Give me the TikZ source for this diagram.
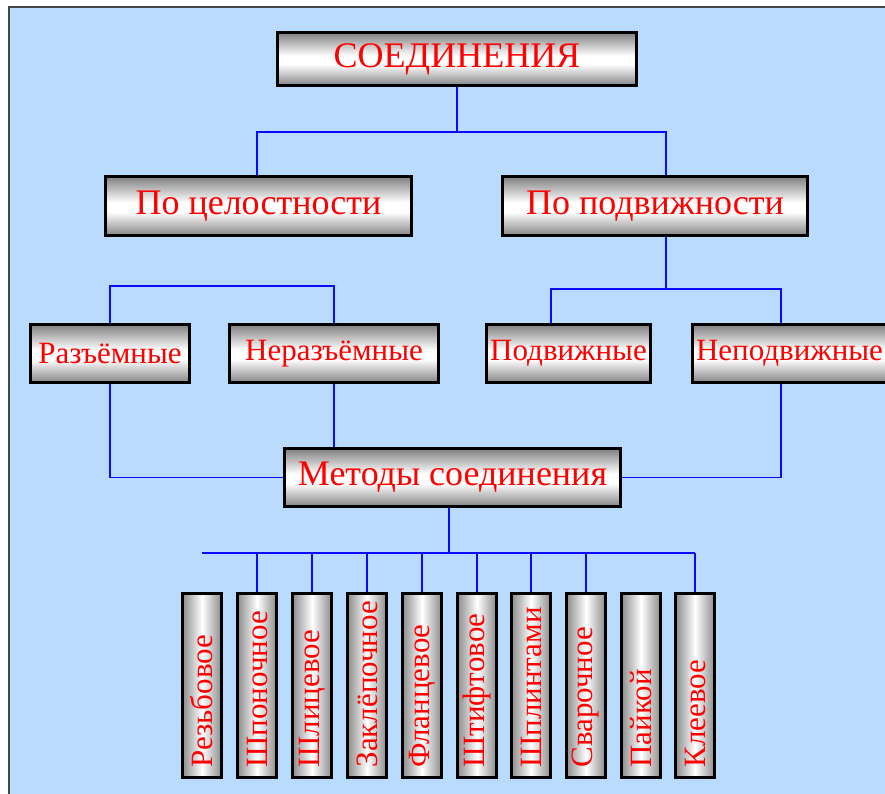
\documentclass[tikz,border=0pt]{standalone}
\usepackage{fontspec}
\setmainfont{Liberation Serif}
\usetikzlibrary{positioning,calc}
\definecolor{bgc}{RGB}{185,219,254}
\definecolor{frm}{RGB}{70,70,70}
\definecolor{lnk}{RGB}{10,10,255}
% metal look of the boxes: grey edges, white band a bit below the middle
\pgfdeclareverticalshading{metal}{100bp}{color(0bp)=(black!48); color(25bp)=(black!48);
  color(45bp)=(white); color(53bp)=(white); color(75bp)=(black!50); color(100bp)=(black!50)}
\newcommand{\upward}[1]{\rotatebox{90}{\makebox[164pt][l]{#1}}}
\tikzset{
  box/.style={rectangle,draw=black,line width=2.6pt,shading=metal,
    text=red,font=\fontsize{36}{42}\selectfont,inner sep=0pt},
  subbox/.style={box,minimum height=58pt,font=\fontsize{31}{36}\selectfont},
  % upright boxes for the ten methods, text runs upward
  vbox/.style={rectangle,draw=black,line width=2.6pt,
    left color=black!45,right color=black!45,middle color=white,
    text=red,font=\fontsize{31}{36}\selectfont,
    minimum width=39pt,minimum height=184pt,inner xsep=0pt,inner ysep=10pt},
  link/.style={draw=lnk,line width=1.9pt},
}

\begin{document}
\begin{tikzpicture}[x=1pt,y=-1pt]
\useasboundingbox (0,0) rectangle (885,793);
\clip (0,0) rectangle (885,793);
\fill[bgc] (9,7) rectangle (890,800);
\draw[frm,line width=1.5pt] (9,800) -- (9,7) -- (890,7);

\node[box,minimum width=359pt,minimum height=53pt] (top) at (457,59) {СОЕДИНЕНИЯ};

\node[box,minimum width=306pt,minimum height=59pt] (cel) at (258.5,206) {По целостности};
\node[box,minimum width=305pt,minimum height=59pt] (podv) at (655,206) {По подвижности};

\node[subbox,minimum width=159pt] (raz) at (110,353.5) {Разъёмные};
\node[subbox,minimum width=209pt] (nraz) at (334,353.5) {Неразъёмные};
\node[subbox,minimum width=164pt] (pdv) at (568.5,353.5) {Подвижные};
\node[subbox,minimum width=194pt] (npdv) at (789.5,353.5) {Неподвижные};

\node[box,minimum width=336pt,minimum height=58pt] (met) at (452.5,477.5) {Методы соединения};

\node[vbox] (m1) at (202,685.5) {\upward{Резьбовое}};
\node[vbox] (m2) at (257,685.5) {\upward{Шпоночное}};
\node[vbox] (m3) at (312,685.5) {\upward{Шлицевое}};
\node[vbox] (m4) at (367,685.5) {\upward{Заклёпочное}};
\node[vbox] (m5) at (422,685.5) {\upward{Фланцевое}};
\node[vbox] (m6) at (477,685.5) {\upward{Штифтовое}};
\node[vbox] (m7) at (531,685.5) {\upward{Шплинтами}};
\node[vbox] (m8) at (586,685.5) {\upward{Сварочное}};
\node[vbox] (m9) at (641,685.5) {\upward{Пайкой}};
\node[vbox] (m10) at (695,685.5) {\upward{Клеевое}};

% tree links
\draw[link] (top.south) -- ++(0,45.5) coordinate (j1);
\draw[link] ([xshift=-1.5pt]cel.north) |- (j1) -| ([xshift=11pt]podv.north);

\draw[link] (raz.north) -- ++(0,-37.5) -| (nraz.north);

\draw[link] ([xshift=11pt]podv.south) -- ++(0,52.5) coordinate (j2);
\draw[link] ([xshift=-17.5pt]pdv.north) |- (j2) -| ([xshift=-8.5pt]npdv.north);

% into the methods box
\draw[link] (raz.south) |- (met.west);
\draw[link] (nraz.south) -- (nraz.south |- met.north);
\draw[link] ([xshift=-8.5pt]npdv.south) |- (met.east);

% down to the ten methods
\draw[link] ([xshift=-3.5pt]met.south) -- ++(0,45.5) coordinate (j3);
\draw[link] (m1 |- j3) -- (m10 |- j3);
\draw[link] (m2 |- j3) -- (m2);
\draw[link] (m3 |- j3) -- (m3);
\draw[link] (m4 |- j3) -- (m4);
\draw[link] (m5 |- j3) -- (m5);
\draw[link] (m6 |- j3) -- (m6);
\draw[link] (m7 |- j3) -- (m7);
\draw[link] (m8 |- j3) -- (m8);
\draw[link] (m10 |- j3) -- (m10);
\end{tikzpicture}
\end{document}
